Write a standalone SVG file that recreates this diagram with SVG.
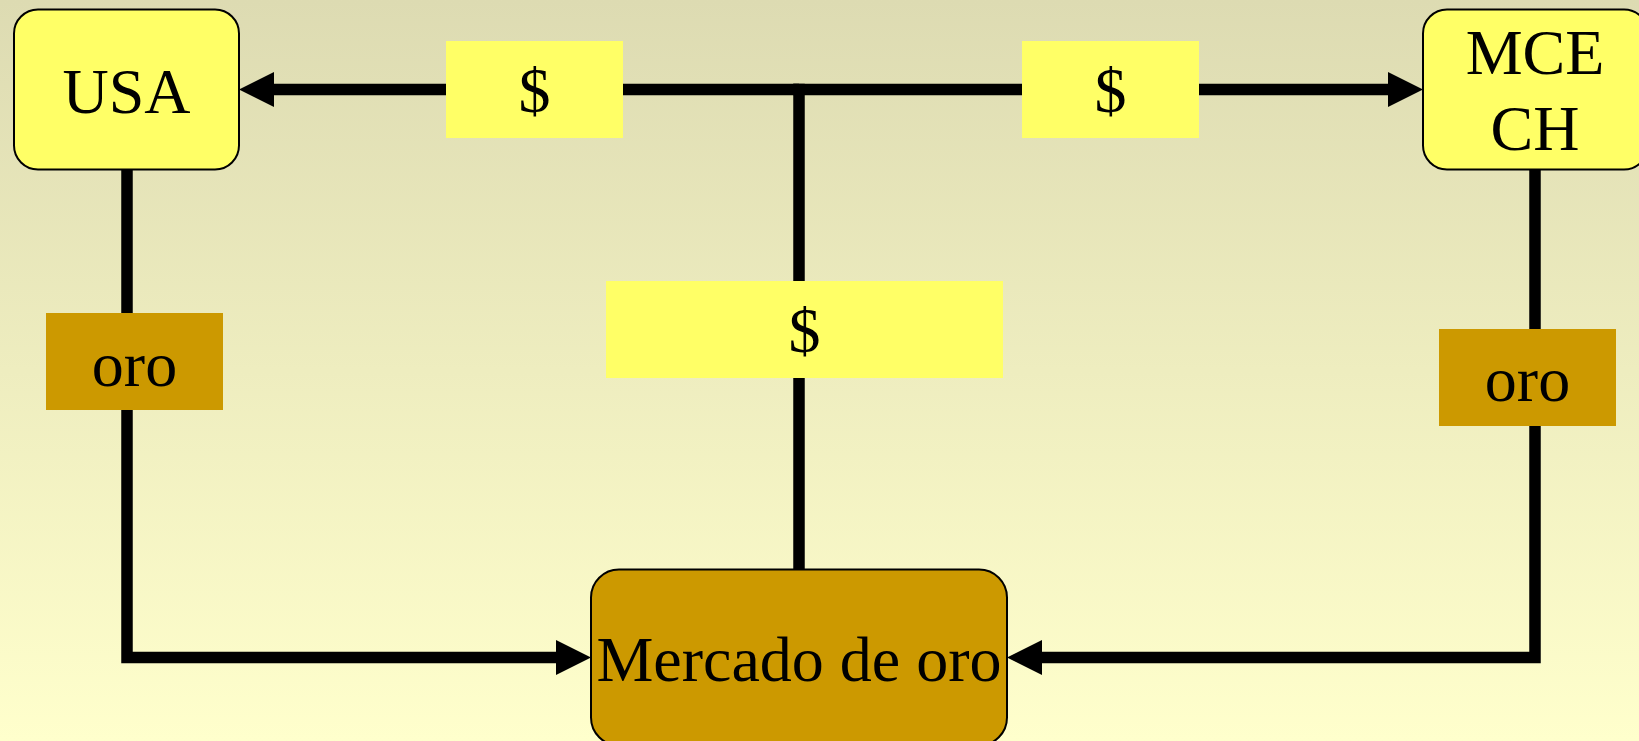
<svg xmlns="http://www.w3.org/2000/svg" width="1639" height="741" viewBox="0 0 1639 741">
  <defs>
    <linearGradient id="bg" x1="0" y1="0" x2="0" y2="1">
      <stop offset="0" stop-color="#DDDBB2"/>
      <stop offset="1" stop-color="#FFFFCC"/>
    </linearGradient>
    <marker id="arr" markerUnits="userSpaceOnUse" markerWidth="36" markerHeight="36" refX="0" refY="17.5" orient="auto" overflow="visible">
      <path d="M0,0 L35,17.5 L0,35 Z" fill="#000"/>
    </marker>
    <style>
      .t { font-family: "Liberation Serif", "Times New Roman", serif; font-size: 64px; fill: #000; text-anchor: middle; }
      .node { stroke: #000; stroke-width: 2; }
      .yel { fill: #FFFF66; }
      .gold { fill: #CC9900; }
      .conn { fill: none; stroke: #000; stroke-width: 11.5; stroke-linejoin: miter; stroke-linecap: butt; }
    </style>
  </defs>
  <rect x="0" y="0" width="1639" height="741" fill="url(#bg)"/>

  <g id="connectors">
    <path class="conn" d="M799,89.5 H274" marker-end="url(#arr)"/>
    <path class="conn" d="M793.25,89.5 H1388" marker-end="url(#arr)"/>
    <path class="conn" d="M799,83.75 V569.5"/>
    <path class="conn" d="M127,169 V657.5 H556" marker-end="url(#arr)"/>
    <path class="conn" d="M1535,169 V657.5 H1042" marker-end="url(#arr)"/>
  </g>

  <g id="usa">
    <rect class="node yel" x="14" y="9.5" width="225" height="160" rx="24" ry="24"/>
    <text class="t" x="126.5" y="113">USA</text>
  </g>
  <g id="mcech">
    <rect class="node yel" x="1423" y="9.5" width="225" height="160" rx="24" ry="24"/>
    <text class="t" x="1535" y="74">MCE</text>
    <text class="t" x="1535" y="150">CH</text>
  </g>
  <g id="mercado">
    <rect class="node gold" x="591" y="569.5" width="416" height="176" rx="28" ry="28"/>
    <text class="t" x="799" y="681">Mercado de oro</text>
  </g>
  <g id="label-usd-left">
    <rect class="yel" x="446" y="41" width="177" height="97"/>
    <text class="t" x="534.5" y="112">$</text>
  </g>
  <g id="label-usd-right">
    <rect class="yel" x="1022" y="41" width="177" height="97"/>
    <text class="t" x="1110.5" y="112">$</text>
  </g>
  <g id="label-usd-center">
    <rect class="yel" x="606" y="281" width="397" height="97"/>
    <text class="t" x="804.5" y="352">$</text>
  </g>
  <g id="label-oro-left">
    <rect class="gold" x="46" y="313" width="177" height="97"/>
    <text class="t" x="134.5" y="386">oro</text>
  </g>
  <g id="label-oro-right">
    <rect class="gold" x="1439" y="329" width="177" height="97"/>
    <text class="t" x="1527.5" y="401">oro</text>
  </g>
</svg>
